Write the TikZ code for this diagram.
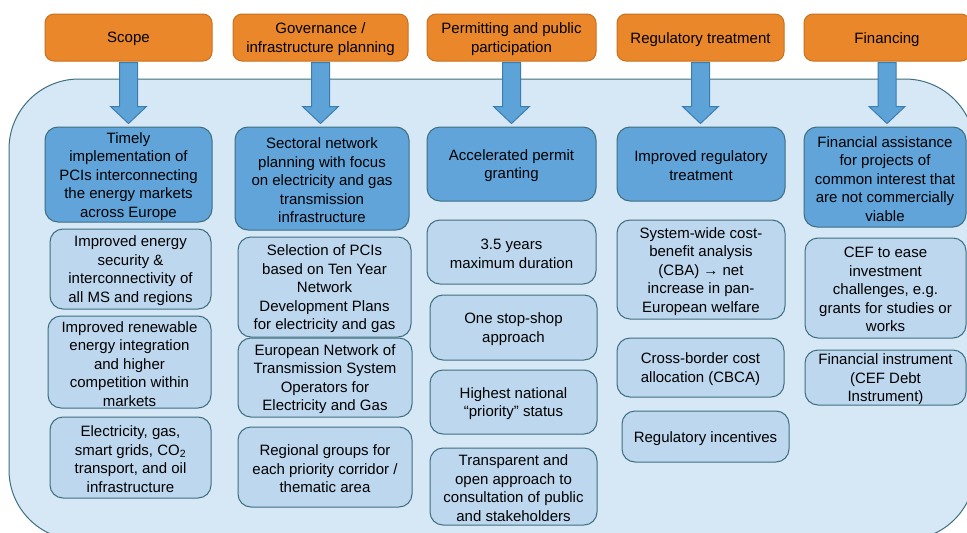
\documentclass[tikz,border=0pt]{standalone}
\usepackage{fontspec}
\setmainfont{Liberation Sans}
\usetikzlibrary{calc}
\definecolor{hdrfill}{HTML}{E9872A}
\definecolor{hdrline}{HTML}{C8711F}
\definecolor{mainfill}{HTML}{60A4DA}
\definecolor{subfill}{HTML}{BDD7EE}
\definecolor{bgfill}{HTML}{D6E7F5}
\definecolor{edge}{HTML}{3E6F80}
\definecolor{arrfill}{HTML}{5DA3D8}
\definecolor{arrline}{HTML}{3C7DB0}
\newcommand\bx[7]{\node[#6, minimum width={#4-#2}, minimum height={#5-#3}] (#1) at ({(#2+#4)/2},{(#3+#5)/2}) {};
  \node[txt] (#1t) at ($(#1.center)+(0,1.8)$) {#7};}
\newcommand\blockarr[2]{\draw[arrsty] let \p1=(#1.south), \p2=(#2.north) in
  (\x1-9pt,\y1-1pt) -- (\x1+9pt,\y1-1pt) -- (\x1+9pt,\y2+20pt) -- (\x1+18pt,\y2+20pt)
  -- (\x1,\y2+3pt) -- (\x1-18pt,\y2+20pt) -- (\x1-9pt,\y2+20pt) -- cycle;}
\tikzset{
  txt/.style={align=center, inner sep=0pt, font=\fontsize{15}{18.5}\selectfont, text=black},
  hdr/.style={inner sep=0pt, draw=hdrline, fill=hdrfill, line width=1pt, rounded corners=9pt},
  mainbox/.style={inner sep=0pt, draw=edge, fill=mainfill, line width=1pt, rounded corners=13pt},
  subbox/.style={inner sep=0pt, draw=edge, fill=subfill, line width=1pt, rounded corners=13pt},
  arrsty/.style={draw=arrline, fill=arrfill, line width=1pt, line join=miter},
}
\begin{document}
\begin{tikzpicture}[x=1pt,y=-1pt]
\useasboundingbox (0,0) rectangle (967,533);
\fill[white] (0,0) rectangle (967,533);
\draw[draw=edge, fill=bgfill, line width=1pt, rounded corners=70pt] (9,79) rectangle (975,540);
% headers
\bx{h1}{45}{14}{212}{61}{hdr}{Scope}
\bx{h2}{233}{14}{408}{61}{hdr}{Governance /\\infrastructure planning}
\bx{h3}{427}{14}{596}{61}{hdr}{Permitting and public\\participation}
\bx{h4}{617}{14}{784}{61}{hdr}{Regulatory treatment}
\bx{h5}{804}{14}{970}{61}{hdr}{Financing}
% main boxes
\bx{m1}{45}{127}{212}{222}{mainbox}{Timely\\implementation of\\PCIs interconnecting\\the energy markets\\across Europe}
\bx{m2}{235}{127}{409}{230}{mainbox}{Sectoral network\\planning with focus\\on electricity and gas\\transmission\\infrastructure}
\bx{m3}{427}{127}{596}{201}{mainbox}{Accelerated permit\\granting}
\bx{m4}{617}{127}{785}{201}{mainbox}{Improved regulatory\\treatment}
\bx{m5}{804}{127}{966}{227}{mainbox}{Financial assistance\\for projects of\\common interest that\\are not commercially\\viable}
% arrows
\blockarr{h1}{m1}
\blockarr{h2}{m2}
\blockarr{h3}{m3}
\blockarr{h4}{m4}
\blockarr{h5}{m5}
% scope column
\bx{s11}{50}{229}{211}{309}{subbox}{Improved energy\\security \&\\interconnectivity of\\all MS and regions}
\bx{s12}{48}{316}{211}{408}{subbox}{Improved renewable\\energy integration\\and higher\\competition within\\markets}
\bx{s13}{50}{417}{211}{498}{subbox}{Electricity, gas,\\smart grids, CO\textsubscript{2}\\transport, and oil\\infrastructure}
% governance column
\bx{s21}{238}{237}{411}{337}{subbox}{Selection of PCIs\\based on Ten Year\\Network\\Development Plans\\for electricity and gas}
\bx{s22}{238}{338}{412}{417}{subbox}{European Network of\\Transmission System\\Operators for\\Electricity and Gas}
\bx{s23}{238}{427}{412}{507}{subbox}{Regional groups for\\each priority corridor /\\thematic area}
% permitting column
\bx{s31}{427}{220}{596}{284}{subbox}{3.5 years\\maximum duration}
\bx{s32}{430}{295}{597}{360}{subbox}{One stop-shop\\approach}
\bx{s33}{430}{370}{597}{434}{subbox}{Highest national\\“priority” status}
\bx{s34}{430}{448}{597}{525}{subbox}{Transparent and\\open approach to\\consultation of public\\and stakeholders}
% regulatory column
\bx{s41}{617}{220}{785}{319}{subbox}{System-wide cost-\\benefit analysis\\(CBA) → net\\increase in pan-\\European welfare}
\bx{s42}{617}{338}{784}{397}{subbox}{Cross-border cost\\allocation (CBCA)}
\bx{s43}{622}{411}{789}{462}{subbox}{Regulatory incentives}
% financing column
\bx{s51}{805}{238}{966}{338}{subbox}{CEF to ease\\investment\\challenges, e.g.\\grants for studies or\\works}
\bx{s52}{805}{350}{966}{405}{subbox}{Financial instrument\\(CEF Debt\\Instrument)}
\end{tikzpicture}
\end{document}
